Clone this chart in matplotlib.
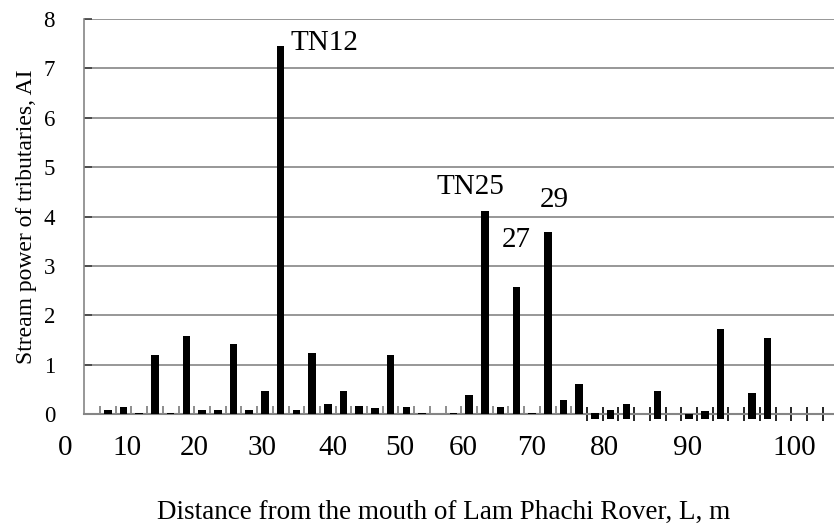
import numpy as np
import matplotlib.pyplot as plt

plt.rcParams['font.family'] = ['Liberation Serif', 'DejaVu Serif']

# tributary number (category) and stream power AI
tributary = [1, 2, 3, 4, 5, 6, 7, 8, 9, 10, 11, 12, 13, 14, 15, 16, 17, 18, 19, 20, 21,
             23, 24, 25, 26, 27, 28, 29, 30, 31,
             32, 33, 34, 36, 38, 39, 40, 42, 43]
power = [0.08, 0.15, 0.03, 1.19, 0.03, 1.59, 0.08, 0.08, 1.43, 0.08, 0.48, 7.46, 0.08, 1.24,
         0.21, 0.48, 0.17, 0.12, 1.21, 0.15, 0.03,
         0.03, 0.39, 4.12, 0.15, 2.57, 0.03, 3.69, 0.29, 0.62,
         0.03, 0.09, 0.21, 0.48, 0.0, 0.07, 1.73, 0.44, 1.55]
n_cat = 48
second_from = 32   # these categories sit on a slightly lower baseline in the original

# distance labels, placed where they were typed on the original chart
dist_pos = [-1.73, 2.22, 6.49, 10.82, 15.33, 19.6, 23.6, 28.0, 32.6, 37.87, 44.68]
dist_labels = ['0', '10', '20', '30', '40', '50', '60', '70', '80', '90', '100']

yticks = np.arange(0, 9)

fig = plt.figure(figsize=(8.34, 5.31), dpi=100)
ax = fig.add_axes([0.06335, 0.2198, 0.93666, 0.7444])
ax.set_xlim(-2.5, 47.22)
ax.set_ylim(0, 8)

x = np.array(tributary)
y = np.array(power)
first = x < second_from
ax.bar(x[first], y[first], width=0.48, color='black', zorder=3)
ax.bar(x[~first], y[~first] + 0.1, bottom=-0.1, width=0.48, color='black',
       zorder=3, clip_on=False)

# horizontal grid only inside the plot area
ax.hlines(yticks[1:], -0.5, 47.22, color='#858585', lw=1.2, zorder=1)

for s in ['top', 'right']:
    ax.spines[s].set_visible(False)
ax.spines['left'].set_position(('data', -0.5))
ax.spines['left'].set_color('#858585')
ax.spines['left'].set_linewidth(1.2)
ax.spines['bottom'].set_bounds(-0.5, 47.22)
ax.spines['bottom'].set_color('#858585')
ax.spines['bottom'].set_linewidth(1.5)

ax.set_yticks(yticks)
ax.tick_params(axis='y', direction='in', length=6, width=1.2, color='#404040',
               pad=21, labelsize=16.5)

ax.set_xticks(dist_pos)
ax.set_xticklabels(dist_labels)
ax.tick_params(axis='x', length=0, pad=15, labelsize=21)

bounds = np.arange(0, n_cat) + 0.5
ax.set_xticks(bounds[bounds < second_from - 0.5], minor=True)
ax.tick_params(axis='x', which='minor', direction='in', length=6, width=1.2,
               color='#7a7a7a')
sec = ax.secondary_xaxis('bottom')
sec.set_xticks(bounds[bounds > second_from - 1])
sec.tick_params(direction='inout', length=10, width=1.2, color='black',
                labelbottom=False)
sec.spines['bottom'].set_visible(False)

ax.set_ylabel('Stream power of tributaries, AI', fontsize=17, labelpad=5)
ax.set_xlabel('Distance from the mouth of Lam Phachi Rover, L, m', fontsize=19.5,
              labelpad=28)

ax.text(12.6, 7.51, 'TN12', fontsize=21, ha='left', va='center')
ax.text(24.06, 4.59, 'TN25', fontsize=21, ha='center', va='center')
ax.text(27.0, 3.53, '27', fontsize=21, ha='center', va='center')
ax.text(29.4, 4.33, '29', fontsize=21, ha='center', va='center')

fig.savefig('out.png', dpi=100)
